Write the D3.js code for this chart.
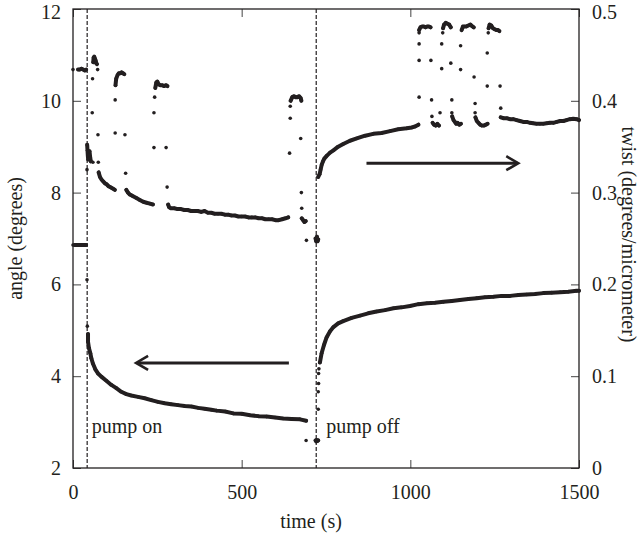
<!DOCTYPE html>
<html><head><meta charset="utf-8">
<script src="https://cdn.jsdelivr.net/npm/d3@7"></script>
<style>body{margin:0;background:#fff}</style>
</head><body>
<svg id="chart" width="642" height="536"></svg>
<script>
// ---------- data ----------
const xTicks = [0, 500, 1000, 1500];
const xTickLabels = ["0", "500", "1000", "1500"];
const angleTicks = [2, 4, 6, 8, 10, 12];
const angleTickLabels = ["2", "4", "6", "8", "10", "12"];
const twistTicks = [0, 0.1, 0.2, 0.3, 0.4, 0.5];
const twistTickLabels = ["0", "0.1", "0.2", "0.3", "0.4", "0.5"];
const pumpTimes = [42, 721];
const pumpLabels = ["pump on", "pump off"];
const xTitle = "time (s)";
const leftTitle = "angle (degrees)";
const rightTitle = "twist (degrees/micrometer)";

// angle (left axis): dense runs and isolated points [time, angle]
const angleRuns = [
  [[5,6.86],[10,6.86],[15,6.86],[20,6.86],[25,6.86],[30,6.86],[35,6.86],[39,6.86]],
  [[44.5,4.92],[44.5,4.75],[47.4,4.61],[51.4,4.50],[54.4,4.39],[59.3,4.27],[66.2,4.15],[74.1,4.06],[84,3.99],[98.8,3.90],[113.6,3.81],[128.4,3.74],[143.2,3.66],[158,3.61],[172.8,3.58],[192.7,3.55],[212.5,3.52],[232,3.48],[252,3.44],[272,3.41],[291,3.39],[311,3.37],[331,3.35],[351,3.34],[371,3.31],[390,3.29],[410,3.27],[426,3.25],[451,3.23],[475,3.19],[500,3.18],[525,3.15],[549,3.13],[574,3.12],[599,3.10],[623,3.08],[648,3.07],[673,3.06],[691,3.03]],
  [[719,2.60],[721,2.58],[723,2.61],[725,2.59],[727,2.60]],
  [[732,4.30],[737,4.50],[744,4.68],[752,4.85],[762,4.98],[772,5.07],[786,5.15],[801,5.20],[826,5.27],[851,5.32],[875,5.37],[900,5.41],[925,5.44],[950,5.48],[974,5.50],[999,5.53],[1024,5.57],[1049,5.59],[1073,5.60],[1098,5.62],[1123,5.64],[1147,5.66],[1172,5.68],[1197,5.70],[1221,5.72],[1246,5.73],[1271,5.75],[1296,5.75],[1320,5.77],[1345,5.78],[1370,5.79],[1394,5.81],[1419,5.82],[1444,5.83],[1468,5.84],[1493,5.86],[1500,5.86]]
];
const angleDots = [[0,6.86],[41.5,6.10],[42.5,5.09],[691,2.60],[727,3.28],[727,3.66],[728,3.84],[728,4.06],[729,4.16]];

// twist (right axis): dense runs and isolated points [time, twist]
const twistRuns = [
  [[15,0.434],[20,0.434],[25,0.435],[30,0.434],[35,0.433],[39,0.434]],
  [[42,0.352],[43,0.346],[44,0.340],[45,0.336],[47,0.341],[49,0.345],[51,0.338],[53,0.334]],
  [[60,0.442],[61,0.447],[63,0.448],[65,0.446],[67,0.444],[69,0.441],[71,0.440]],
  [[76,0.322],[80,0.317],[85,0.314],[90,0.312],[95,0.310],[100,0.309],[105,0.307],[110,0.306],[115,0.305],[120,0.304],[124,0.303]],
  [[126,0.417],[128,0.424],[132,0.428],[136,0.430],[140,0.430],[144,0.431],[148,0.430],[152,0.429]],
  [[158,0.303],[163,0.300],[168,0.298],[173,0.297],[178,0.296],[188,0.294],[198,0.292],[208,0.290],[218,0.289],[228,0.288],[237,0.287]],
  [[244,0.414],[247,0.420],[250,0.421],[254,0.418],[258,0.417],[264,0.417],[270,0.416],[276,0.417],[280,0.416]],
  [[282,0.287],[285,0.284],[290,0.283],[300,0.283],[310,0.282],[320,0.282],[330,0.281],[340,0.281],[350,0.280],[360,0.280],[370,0.280],[380,0.279],[390,0.280],[400,0.278],[410,0.278],[420,0.277],[430,0.277],[440,0.277],[450,0.276],[460,0.276],[470,0.275],[480,0.275],[490,0.274],[500,0.274],[510,0.274],[520,0.273],[530,0.273],[540,0.273],[550,0.272],[560,0.272],[570,0.271],[580,0.271],[590,0.271],[600,0.270],[610,0.270],[620,0.271],[630,0.272],[638,0.273]],
  [[645,0.400],[650,0.404],[655,0.405],[660,0.404],[665,0.404],[670,0.405],[675,0.403],[677,0.400]],
  [[678,0.272],[682,0.270],[686,0.268],[690,0.269]],
  [[719,0.250],[721,0.247],[723,0.252],[725,0.247],[727,0.249]],
  [[727,0.317],[731,0.320],[734,0.325],[737,0.330],[741,0.334],[745,0.337],[752,0.340],[762,0.3435],[772,0.346],[786,0.350],[801,0.353],[821,0.3565],[841,0.359],[866,0.362],[890,0.364],[915,0.365],[940,0.367],[964,0.369],[989,0.370],[1005,0.371],[1014,0.372],[1024,0.374]],
  [[1026,0.477],[1030,0.480],[1035,0.481],[1040,0.481],[1045,0.480],[1050,0.481],[1055,0.481],[1060,0.480]],
  [[1066,0.376],[1070,0.374],[1075,0.373],[1080,0.375],[1085,0.373]],
  [[1097,0.479],[1100,0.483],[1105,0.485],[1110,0.484],[1115,0.483],[1120,0.480]],
  [[1124,0.383],[1128,0.379],[1132,0.377],[1136,0.375],[1140,0.376],[1145,0.374],[1150,0.375]],
  [[1152,0.477],[1156,0.481],[1160,0.481],[1166,0.481],[1172,0.482],[1178,0.483],[1184,0.481],[1188,0.480]],
  [[1193,0.382],[1197,0.378],[1202,0.376],[1207,0.374],[1212,0.373],[1218,0.373],[1224,0.374],[1229,0.375]],
  [[1232,0.479],[1235,0.483],[1240,0.482],[1245,0.479],[1250,0.478],[1255,0.477],[1260,0.477],[1264,0.476]],
  [[1268,0.382],[1277,0.381],[1286,0.381],[1295,0.380],[1305,0.380],[1315,0.379],[1325,0.378],[1335,0.377],[1345,0.377],[1355,0.376],[1364,0.3755],[1374,0.375],[1384,0.375],[1394,0.375],[1404,0.3755],[1414,0.376],[1424,0.376],[1434,0.377],[1444,0.378],[1454,0.378],[1463,0.379],[1473,0.380],[1483,0.3805],[1493,0.380],[1500,0.379]]
];
const twistDots = [
  [0,0.434],[41.5,0.325],
  [57,0.387],[58,0.424],[59,0.333],[73,0.434],[74,0.363],[75,0.333],
  [125,0.401],[125,0.365],[154,0.363],[156,0.321],
  [240,0.349],[240,0.387],[242,0.404],[276,0.349],[279,0.306],
  [642,0.343],[644,0.381],[644,0.394],[675,0.359],[677,0.300],[678,0.283],[692,0.248],
  [1026,0.404],[1026,0.444],[1026,0.462],[1026,0.474],[1061,0.444],[1063,0.401],[1064,0.383],
  [1088,0.387],[1093,0.435],[1093,0.462],[1096,0.474],[1120,0.441],[1123,0.401],[1123,0.387],
  [1149,0.460],[1149,0.434],[1189,0.426],[1192,0.397],[1192,0.387],
  [1228,0.416],[1228,0.452],[1231,0.474],[1266,0.416],[1268,0.392]
];

// arrows in data units
const angleArrow = {from: [640, 4.29], to: [187, 4.29]};
const twistArrow = {from: [870, 0.332], to: [1320, 0.332]};

// ---------- drawing ----------
const ink = "#231f20";
const font = "'Liberation Serif', 'Times New Roman', serif";
const L = 73, R = 579, T = 9, B = 468;
const svg = d3.select("#chart");
const x = d3.scaleLinear().domain([0, 1500]).range([L, R]);
const yA = d3.scaleLinear().domain([2, 12]).range([B, T]);
const yT = d3.scaleLinear().domain([0, 0.5]).range([B, T]);

function styleAxis(g) {
  g.select(".domain").remove();
  g.selectAll(".tick line").attr("stroke", "#444").attr("stroke-width", 1);
  g.selectAll(".tick text").attr("fill", ink).style("font-family", font).style("font-size", "20px");
}

svg.append("g").attr("transform", `translate(0,${B})`)
  .call(d3.axisBottom(x).tickValues(xTicks).tickFormat((d, i) => xTickLabels[i]).tickSizeInner(-8).tickSizeOuter(0).tickPadding(17))
  .call(styleAxis);
svg.append("g").attr("transform", `translate(0,${T})`)
  .call(d3.axisTop(x).tickValues(xTicks).tickFormat("").tickSizeInner(-8).tickSizeOuter(0))
  .call(styleAxis);
const gl = svg.append("g").attr("transform", `translate(${L},0)`)
  .call(d3.axisLeft(yA).tickValues(angleTicks).tickFormat((d, i) => angleTickLabels[i]).tickSizeInner(-8).tickSizeOuter(0).tickPadding(12))
  .call(styleAxis);
const gr = svg.append("g").attr("transform", `translate(${R},0)`)
  .call(d3.axisRight(yT).tickValues(twistTicks).tickFormat((d, i) => twistTickLabels[i]).tickSizeInner(-8).tickSizeOuter(0).tickPadding(13))
  .call(styleAxis);
// keep the topmost labels inside the picture
gl.selectAll(".tick text").filter(d => d === 12).attr("dy", "0.45em");
gr.selectAll(".tick text").filter(d => d === 0.5).attr("dy", "0.45em");

svg.append("rect").attr("x", L).attr("y", T).attr("width", R - L).attr("height", B - T)
  .attr("fill", "none").attr("stroke", ink).attr("stroke-width", 1.3);

// titles
svg.append("text").attr("x", 311).attr("y", 528).attr("text-anchor", "middle")
  .style("font-family", font).style("font-size", "20px").attr("fill", ink).text(xTitle);
svg.append("text").attr("transform", `translate(22,${(T + B) / 2}) rotate(-90)`).attr("text-anchor", "middle")
  .style("font-family", font).style("font-size", "20px").attr("fill", ink).text(leftTitle);
svg.append("text").attr("transform", `translate(622,${(T + B) / 2 - 4}) rotate(90)`).attr("text-anchor", "middle")
  .style("font-family", font).style("font-size", "20px").attr("fill", ink).text(rightTitle);

// pump lines
const pumpOffsets = [4.5, 10];
pumpTimes.forEach((t, i) => {
  svg.append("line").attr("x1", x(t)).attr("x2", x(t)).attr("y1", T).attr("y2", B)
    .attr("stroke", ink).attr("stroke-width", 1.2).attr("stroke-dasharray", "4,2");
  svg.append("text").attr("x", x(t) + pumpOffsets[i]).attr("y", 433)
    .style("font-family", font).style("font-size", "20px").attr("fill", ink).text(pumpLabels[i]);
});

// series
function drawSeries(runs, dots, yS) {
  const line = d3.line().x(d => x(d[0])).y(d => yS(d[1]));
  svg.append("g").selectAll("path").data(runs).join("path")
    .attr("d", line).attr("fill", "none").attr("stroke", ink)
    .attr("stroke-width", 4).attr("stroke-linecap", "round").attr("stroke-linejoin", "round");
  const pts = runs.flat().concat(dots);
  svg.append("g").selectAll("circle").data(pts).join("circle")
    .attr("cx", d => x(d[0])).attr("cy", d => yS(d[1])).attr("r", 1.8).attr("fill", ink);
}
drawSeries(angleRuns, angleDots, yA);
drawSeries(twistRuns, twistDots, yT);

// arrows
function arrow(a, yS) {
  const x1 = x(a.from[0]), y1 = yS(a.from[1]), x2 = x(a.to[0]), y2 = yS(a.to[1]);
  const dir = Math.sign(x2 - x1);
  svg.append("line").attr("x1", x1).attr("y1", y1).attr("x2", x2 - dir * 1).attr("y2", y2)
    .attr("stroke", ink).attr("stroke-width", 3);
  svg.append("path")
    .attr("d", `M${x2 - dir * 12},${y2 - 7}L${x2},${y2}L${x2 - dir * 12},${y2 + 7}`)
    .attr("fill", "none").attr("stroke", ink).attr("stroke-width", 2.6).attr("stroke-linejoin", "miter");
}
arrow(angleArrow, yA);
arrow(twistArrow, yT);
</script></body></html>
